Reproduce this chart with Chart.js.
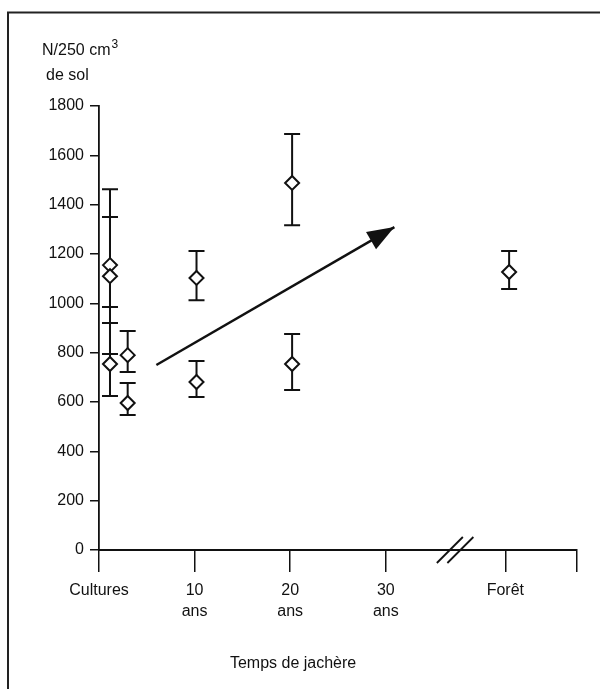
<!DOCTYPE html>
<html>
<head>
<meta charset="utf-8">
<script src="https://cdn.jsdelivr.net/npm/chart.js@4.4.1/dist/chart.umd.min.js"></script>
<style>
html,body{margin:0;padding:0;background:#fff;}
#wrap{width:600px;height:689px;position:relative;}
</style>
</head>
<body>
<div id="wrap"><canvas id="c" width="600" height="689"></canvas></div>
<script>
// ---- data ----
const xVals   = [1.15, 1.15, 1.15, 3, 3, 10.2, 10.2, 20.2, 20.2, 42.9];
const yVals   = [1155, 1110, 754, 790, 596, 1103, 681, 1488, 754, 1127];
const errLow  = [985, 795, 624, 722, 547, 1013, 620, 1317, 649, 1058];
const errHigh = [1350, 1463, 920, 888, 677, 1212, 766, 1686, 876, 1212];
const xTickValues = [0, 10, 20, 30, 42.5, 50];
const xTickLabels = ['Cultures', ['10', 'ans'], ['20', 'ans'], ['30', 'ans'], 'Forêt', ''];
const yTickValues = [0, 200, 400, 600, 800, 1000, 1200, 1400, 1600, 1800];
const arrowX = [6.0, 30.9];
const arrowY = [750, 1309];
const yTitle = ['N/250 cm', '3', 'de sol'];
const xTitle = 'Temps de jachère';

const FONT = '"Liberation Sans", Arial, Helvetica, sans-serif';
const INK = '#111';

const pointData = xVals.map((x, i) => ({x: x, y: yVals[i]}));
const arrowData = arrowX.map((x, i) => ({x: x, y: arrowY[i]}));

const framePlugin = {
  id: 'frame',
  beforeDraw(chart) {
    const ctx = chart.ctx;
    ctx.save();
    ctx.fillStyle = '#fff';
    ctx.fillRect(0, 0, chart.width, chart.height);
    ctx.strokeStyle = '#222';
    ctx.lineWidth = 2;
    ctx.beginPath();
    ctx.moveTo(8, chart.height);
    ctx.lineTo(8, 12.5);
    ctx.lineTo(chart.width, 12.5);
    ctx.stroke();
    ctx.restore();
  }
};

const errorBarPlugin = {
  id: 'errbars',
  beforeDatasetsDraw(chart) {
    const ctx = chart.ctx, xs = chart.scales.x, ys = chart.scales.y;
    ctx.save();
    ctx.strokeStyle = INK;
    ctx.lineWidth = 2;
    for (let i = 0; i < xVals.length; i++) {
      const px = xs.getPixelForValue(xVals[i]);
      const pl = ys.getPixelForValue(errLow[i]);
      const ph = ys.getPixelForValue(errHigh[i]);
      ctx.beginPath();
      ctx.moveTo(px, pl); ctx.lineTo(px, ph);
      ctx.moveTo(px - 8, pl); ctx.lineTo(px + 8, pl);
      ctx.moveTo(px - 8, ph); ctx.lineTo(px + 8, ph);
      ctx.stroke();
    }
    ctx.restore();
  }
};

const extrasPlugin = {
  id: 'extras',
  afterDatasetsDraw(chart) {
    const ctx = chart.ctx;
    // arrowhead
    const meta = chart.getDatasetMeta(1);
    const p0 = meta.data[0], p1 = meta.data[1];
    const ang = Math.atan2(p1.y - p0.y, p1.x - p0.x);
    const L = 27, W = 10;
    ctx.save();
    ctx.fillStyle = INK;
    ctx.beginPath();
    ctx.moveTo(p1.x, p1.y);
    ctx.lineTo(p1.x - L * Math.cos(ang) + W * Math.sin(ang), p1.y - L * Math.sin(ang) - W * Math.cos(ang));
    ctx.lineTo(p1.x - L * Math.cos(ang) - W * Math.sin(ang), p1.y - L * Math.sin(ang) + W * Math.cos(ang));
    ctx.closePath();
    ctx.fill();
    ctx.restore();
  },
  afterDraw(chart) {
    const ctx = chart.ctx, xs = chart.scales.x, ys = chart.scales.y;
    ctx.save();
    // axis break slashes
    ctx.strokeStyle = INK;
    ctx.lineWidth = 1.8;
    const by = ys.getPixelForValue(0);
    [36.7, 37.8].forEach(v => {
      const cx = xs.getPixelForValue(v);
      ctx.beginPath();
      ctx.moveTo(cx - 13, by + 13);
      ctx.lineTo(cx + 13, by - 13);
      ctx.stroke();
    });
    // y title
    ctx.fillStyle = INK;
    ctx.textBaseline = 'alphabetic';
    ctx.textAlign = 'left';
    ctx.font = '16px ' + FONT;
    ctx.fillText(yTitle[0], 42, 55);
    const w = ctx.measureText(yTitle[0]).width;
    ctx.font = '12px ' + FONT;
    ctx.fillText(yTitle[1], 42 + w + 1, 48);
    ctx.font = '16px ' + FONT;
    ctx.fillText(yTitle[2], 46, 80);
    // x title
    ctx.textAlign = 'center';
    ctx.textBaseline = 'middle';
    ctx.fillText(xTitle, xs.getPixelForValue(20.3), 664);
    ctx.restore();
  }
};

new Chart(document.getElementById('c'), {
  type: 'scatter',
  data: {
    datasets: [
      {
        data: pointData,
        pointStyle: 'rectRot',
        pointRadius: 7,
        pointHoverRadius: 7,
        backgroundColor: '#fff',
        borderColor: INK,
        borderWidth: 2
      },
      {
        type: 'line',
        data: arrowData,
        showLine: true,
        borderColor: INK,
        borderWidth: 2.5,
        pointRadius: 0,
        fill: false
      }
    ]
  },
  options: {
    responsive: false,
    animation: false,
    events: [],
    layout: {padding: {top: 106, right: 23, left: 0, bottom: 0}},
    plugins: {legend: {display: false}, tooltip: {enabled: false}},
    scales: {
      x: {
        type: 'linear',
        min: 0, max: 50,
        afterBuildTicks(scale) { scale.ticks = xTickValues.map(v => ({value: v})); },
        afterFit(scale) { scale.height = 139; },
        ticks: {
          autoSkip: false, maxRotation: 0, padding: 8,
          color: INK,
          font: {family: FONT, size: 16, lineHeight: 1.3},
          callback(value, index) { return xTickLabels[index]; }
        },
        grid: {display: true, drawOnChartArea: false, drawTicks: true, tickLength: 22, color: INK, lineWidth: 1.5},
        border: {display: true, color: INK, width: 2}
      },
      y: {
        type: 'linear',
        min: 0, max: 1800,
        afterBuildTicks(scale) { scale.ticks = yTickValues.map(v => ({value: v})); },
        afterFit(scale) { scale.width = 99; },
        ticks: {
          padding: 6, color: INK,
          font: {family: FONT, size: 16},
          callback(value) { return String(value); }
        },
        grid: {display: true, drawOnChartArea: false, drawTicks: true, tickLength: 9, color: INK, lineWidth: 1.5},
        border: {display: true, color: INK, width: 1.8}
      }
    }
  },
  plugins: [framePlugin, errorBarPlugin, extrasPlugin]
});
</script>
</body>
</html>
